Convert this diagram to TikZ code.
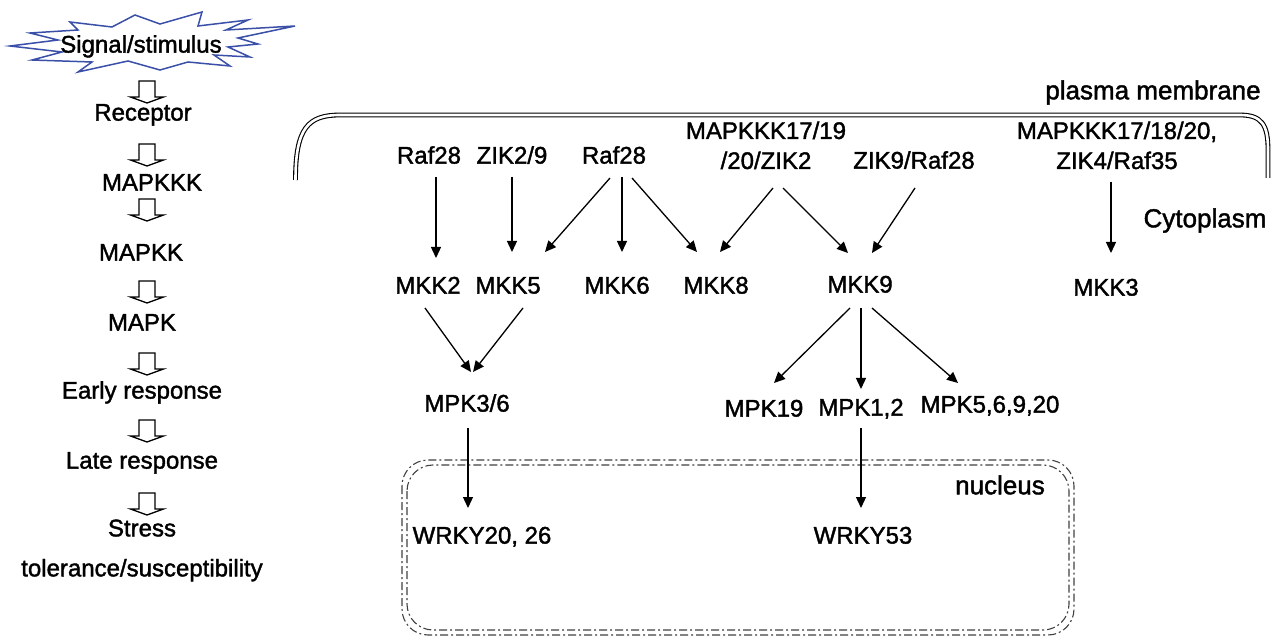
\documentclass[tikz,border=0pt]{standalone}
\usepackage{fontspec}
\setmainfont{Liberation Sans}[RawFeature={embolden=1.6}]
\usetikzlibrary{arrows.meta}
\definecolor{starblue}{HTML}{3A4FA8}
\begin{document}
\begin{tikzpicture}[x=1pt,y=-1pt,
 lbl/.style={inner sep=0pt, font=\fontsize{24}{30}\selectfont, text height=17.2pt, text depth=0pt},
 mlbl/.style={inner sep=0pt, font=\fontsize{24}{30}\selectfont, align=center, anchor=north},
 big/.style={inner sep=0pt, font=\fontsize{26}{30}\selectfont, text height=18.6pt, text depth=0pt},
 arr/.style={line width=1.3pt, -{Triangle[length=11pt,width=10pt]}},
 holarrow/.pic={\draw[line width=1.3pt, line join=miter] (-8,0) -- (8,0) -- (8,16) -- (16.5,16) -- (0,22) -- (-16.5,16) -- (-8,16) -- cycle;},
 nuc/.style={line width=1.1pt, draw=black!75, dash pattern=on 8pt off 3pt on 2pt off 3pt, rounded corners=26pt}
]
\useasboundingbox (0,0) rectangle (1278,636);
% signal burst
\draw[starblue, line width=1.5pt, line join=miter]
 (10,46) -- (58,40) -- (30,33) -- (78,30) -- (70,22) -- (112,27) -- (135,15) -- (160,24)
 -- (202,12) -- (198,26) -- (248,20) -- (226,30) -- (295,26) -- (238,38) -- (258,44)
 -- (228,47) -- (250,57) -- (214,55) -- (230,66) -- (188,62) -- (160,70) -- (128,61)
 -- (78,72) -- (92,62) -- (32,60) -- (62,52) -- cycle;
\node[lbl] (sig) at (141,44) {Signal/stimulus};
\node[lbl] (rec) at (143,112) {Receptor};
\node[lbl] (mkkk) at (152,182) {MAPKKK};
\node[lbl] (mkk) at (141,252) {MAPKK};
\node[lbl] (mapk) at (142,322) {MAPK};
\node[lbl] (early) at (142,390) {Early response};
\node[lbl] (late) at (142,460) {Late response};
\node[inner sep=0pt, font=\fontsize{24}{40}\selectfont, align=center, anchor=north] (stress) at (142,519.4) {Stress\\tolerance/susceptibility};
\pic at (147,81) {holarrow};
\pic at (147,144) {holarrow};
\pic at (147,199) {holarrow};
\pic at (147,281) {holarrow};
\pic at (147,353) {holarrow};
\pic at (147,420) {holarrow};
\pic at (147,493) {holarrow};
% membrane
\draw[line width=1.1pt, double distance=2.6pt] (295.5,180) .. controls (295.5,128) and (308,115) .. (340,115) -- (1240,115) .. controls (1262,115) and (1268,125) .. (1268,150) -- (1268,178);
\node[big] (pm) at (1153,90) {plasma membrane};
\node[big] (cyto) at (1205,218) {Cytoplasm};
% nucleus
\draw[nuc] (402,460) rectangle (1074,635);
\draw[nuc] (407,465) rectangle (1069,630);
\node[big] (nucl) at (1000,485) {nucleus};
% MAPKKK row
\node[lbl] (raf1) at (429,155) {Raf28};
\node[lbl] (zik29) at (512,155) {ZIK2/9};
\node[lbl] (raf2) at (614,155) {Raf28};
\node[mlbl] (mk17) at (766,121.4) {MAPKKK17/19\\/20/ZIK2};
\node[lbl] (zik9) at (914,160) {ZIK9/Raf28};
\node[mlbl] (mk18) at (1117,121.4) {MAPKKK17/18/20,\\ZIK4/Raf35};
% MKK row
\node[lbl] (mkk2) at (428,285) {MKK2};
\node[lbl] (mkk5) at (508,285) {MKK5};
\node[lbl] (mkk6) at (617,285) {MKK6};
\node[lbl] (mkk8) at (716,285) {MKK8};
\node[lbl] (mkk9) at (860,284) {MKK9};
\node[lbl] (mkk3) at (1106,287) {MKK3};
% MPK row
\node[lbl] (mpk36) at (467,403) {MPK3/6};
\node[lbl] (mpk19) at (764,408) {MPK19};
\node[lbl] (mpk12) at (861,407) {MPK1,2};
\node[lbl] (mpk5) at (990,404) {MPK5,6,9,20};
% WRKY
\node[lbl] (wrky1) at (482,535) {WRKY20, 26};
\node[lbl] (wrky53) at (863,535) {WRKY53};
% arrows
\draw[arr] ([shift={(7,22)}]raf1.center) -- ([shift={(8,-27)}]mkk2.center);
\draw[arr] ([shift={(0,22)}]zik29.center) -- ([shift={(4,-33)}]mkk5.center);
\draw[arr] ([shift={(-4,23)}]raf2.center) -- ([shift={(37,-33)}]mkk5.center);
\draw[arr] ([shift={(8,22)}]raf2.center) -- ([shift={(5,-33)}]mkk6.center);
\draw[arr] ([shift={(18,23)}]raf2.center) -- ([shift={(-19,-33)}]mkk8.center);
\draw[arr] ([shift={(7,66.6)}]mk17.north) -- ([shift={(4,-33)}]mkk8.center);
\draw[arr] ([shift={(17,66.6)}]mk17.north) -- ([shift={(-12,-31)}]mkk9.center);
\draw[arr] ([shift={(1,28)}]zik9.center) -- ([shift={(12,-31)}]mkk9.center);
\draw[arr] ([shift={(-6,60.6)}]mk18.north) -- ([shift={(5,-34)}]mkk3.center);
\draw[arr] ([shift={(-3,23)}]mkk2.center) -- ([shift={(4,-31)}]mpk36.center);
\draw[arr] ([shift={(15,23)}]mkk5.center) -- ([shift={(6,-31)}]mpk36.center);
\draw[arr] ([shift={(-10,24)}]mkk9.center) -- ([shift={(10,-25)}]mpk19.center);
\draw[arr] ([shift={(1,24)}]mkk9.center) -- ([shift={(0,-18)}]mpk12.center);
\draw[arr] ([shift={(12,24)}]mkk9.center) -- ([shift={(-32,-21)}]mpk5.center);
\draw[arr] ([shift={(1,25)}]mpk36.center) -- ([shift={(-14,-27)}]wrky1.center);
\draw[arr] ([shift={(0,21)}]mpk12.center) -- ([shift={(-2,-27)}]wrky53.center);
\end{tikzpicture}
\end{document}
